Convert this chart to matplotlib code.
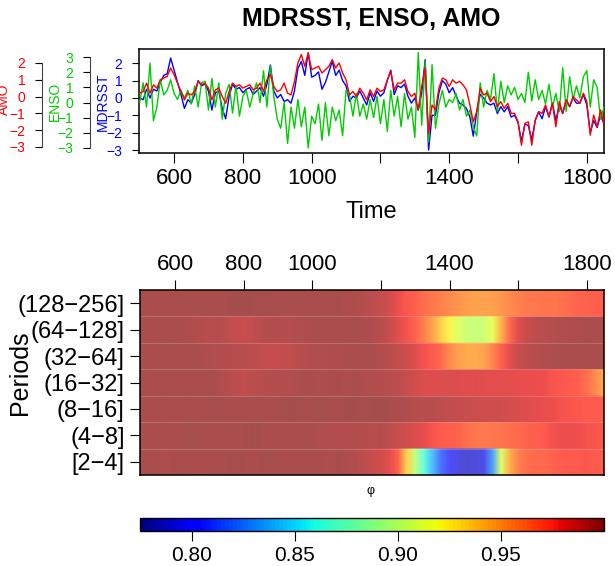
import numpy as np
import matplotlib
matplotlib.use("Agg")
import matplotlib.pyplot as plt
from matplotlib import cm, colors

plt.rcParams['font.family'] = ['Liberation Sans', 'DejaVu Sans']

# time axis of the series (10-year steps)
years = np.arange(500, 1851, 10)

mdrsst = [0.0, -0.1, 0.5, 0.0, 0.5, 0.4, 0.9, 1.3, 1.4, 2.3,
          1.6, 0.9, 0.2, -0.6, -0.1, -0.3, 0.2, 1.0, 0.7, 0.8,
          0.4, -0.7, 0.3, 0.4, -0.6, -1.2, 0.1, 0.8, 0.5, 0.6,
          0.3, 0.5, 0.6, 0.2, 0.4, 0.6, 0.1, 0.8, 1.9, 0.4,
          0.0, 0.2, -0.2, -0.1, -0.3, 0.4, 1.7, 2.1, 1.3, 2.6,
          1.2, 1.3, 1.5, 0.5, 0.9, 1.5, 2.1, 1.3, 1.6, 1.0,
          0.7, -0.2, 0.1, 0.0, 0.4, 0.0, -0.4, 0.3, -0.2, 0.4,
          0.1, 0.3, 1.0, 1.6, 0.2, 0.7, 0.6, 0.8, 0.1, -0.3,
          0.0, -0.7, 0.3, 2.2, -3.0, -1.0, -1.0, 0.3, 1.0, 0.8,
          0.3, 0.6, 0.1, -0.3, -0.4, -0.6, -1.1, -2.2, -0.8, 0.2,
          0.0, -0.3, -0.4, -0.3, -0.9, -0.5, -0.8, -0.5, -1.1, -1.0,
          -1.4, -2.5, -1.5, -1.6, -2.4, -1.3, -0.8, -1.2, -0.5, -1.1,
          -0.3, -1.3, -0.4, -0.9, -0.1, -0.5, 0.0, -0.3, -0.3, 0.2,
          -0.4, -2.0, -1.3, -1.7, -1.0, -1.5]

amo = [0.2, 0.3, 0.8, 0.2, 0.7, 0.5, 1.0, 1.1, 1.2, 1.7,
       1.3, 0.8, 0.3, -0.2, 0.2, 0.1, 0.3, 0.9, 0.7, 0.8,
       0.5, -0.2, 0.4, 0.5, 0.0, -0.4, 0.3, 0.8, 0.6, 0.7,
       0.5, 0.6, 0.7, 0.4, 0.5, 0.8, 0.3, 1.0, 1.3, 0.6,
       0.3, 0.4, 0.8, 0.2, 0.1, 0.9, 2.0, 2.5, 1.8, 2.6,
       1.6, 1.7, 1.8, 1.4, 1.6, 1.8, 2.2, 1.7, 2.0, 1.4,
       1.0, 0.1, 0.3, 0.0, 0.5, 0.2, -0.2, 0.4, 0.0, 0.5,
       0.3, 0.4, 1.0, 1.5, 0.4, 0.8, 0.8, 1.0, 0.3, 0.0,
       0.2, -0.8, 0.6, 1.7, -2.2, -0.5, -0.8, 0.5, 1.1, 1.0,
       0.6, 1.0, 0.8, 0.9, 0.7, 0.4, -0.5, -1.5, -0.9, 0.5,
       0.1, 0.2, -0.3, 0.0, -0.6, -0.3, -0.7, -0.4, -1.0, -1.0,
       -1.5, -2.9, -1.6, -1.5, -2.9, -1.4, -0.9, -1.0, -0.5, -1.2,
       -0.4, -1.8, -0.3, -1.0, -0.2, -0.6, 0.0, -0.2, -0.4, 0.2,
       -0.3, -2.3, -1.1, -1.8, -0.8, -1.6]

enso = [0.0, 1.3, -0.3, 2.6, -1.2, -0.3, 1.5, 0.5, 0.8, 1.5,
        0.6, 0.2, 0.8, 0.3, 0.8, -0.1, 1.1, -0.3, 1.3, 1.4,
        -0.5, 1.6, -0.3, 1.3, -1.1, 0.6, 1.2, -0.7, 1.1, -0.9,
        0.4, 0.8, -0.3, 0.6, 1.3, 0.0, 2.1, -0.3, 2.4, 0.4,
        -1.1, -1.7, 0.0, -2.7, -0.3, -1.7, 0.2, -1.6, -0.3, -3.0,
        -0.9, -1.4, -0.1, -2.5, 0.0, -2.2, -0.3, -1.2, -0.5, -2.2,
        0.8, 0.5, -0.9, 0.6, -0.9, -0.1, -1.1, 0.2, -1.0, 0.4,
        -1.4, 0.2, -1.9, 0.8, -0.9, 0.4, -1.6, 0.6, -1.1, -0.3,
        -2.3, 3.3, -1.5, 2.7, -2.6, 2.5, -1.7, -0.1, 0.8, -0.3,
        0.2, 0.0, 0.6, -0.5, 0.2, -0.9, -0.5, -1.6, -2.2, 1.3,
        -0.3, 0.8, 0.2, 1.9, -0.6, 1.4, 0.0, 1.1, 0.5, 1.0,
        0.2, 0.6, 0.0, 2.0, 0.1, 1.5, 0.2, 0.8, -0.1, 1.2,
        -0.3, 0.6, -0.6, 2.3, -0.6, 1.7, 0.2, 1.1, 0.3, 1.7,
        2.1, -0.3, 1.5, 1.0, -1.1, -0.3]

# coherence-type index per period band (25-year steps)
coh_years = np.arange(500, 1851, 25)
period_labels = ['[2\u22124]', '(4\u22128]', '(8\u221216]', '(16\u221232]',
                 '(32\u221264]', '(64\u2212128]', '(128\u2212256]']

band_2_4 = [0.998, 0.999, 0.998, 0.997, 0.998, 0.999, 0.998, 0.998, 0.999, 0.998,
            0.999, 1.0, 0.999, 0.998, 0.999, 1.0, 0.999, 0.998, 0.999, 0.998,
            0.999, 0.998, 0.997, 0.998, 0.997, 0.996,
            0.993, 0.99, 0.988, 0.982, 0.972, 0.935, 0.9, 0.865, 0.84, 0.815,
            0.8, 0.792, 0.788, 0.79, 0.795, 0.83, 0.91, 0.945, 0.962, 0.968,
            0.97, 0.97, 0.972, 0.974, 0.975, 0.975, 0.976, 0.975, 0.974]
band_4_8 = [0.999, 0.998, 0.999, 0.999, 0.998, 0.999, 1.0, 0.999, 0.998, 0.999,
            0.999, 0.998, 0.999, 1.0, 0.999, 0.998, 0.999, 0.999, 0.998, 0.999,
            0.998, 0.997,
            0.996, 0.996, 0.995, 0.996, 0.995, 0.994, 0.995, 0.993,
            0.99, 0.988, 0.985, 0.982,
            0.977, 0.975, 0.973, 0.972,
            0.968, 0.965, 0.964, 0.965, 0.966, 0.968,
            0.97, 0.972, 0.973, 0.975,
            0.978, 0.979, 0.98, 0.979, 0.978, 0.977, 0.976]
band_8_16 = [0.999, 0.998, 0.999, 0.999, 0.998, 0.999, 0.999, 0.998, 0.999, 1.0,
             0.999, 0.999, 0.998, 0.999, 0.999, 0.998, 0.999, 1.0, 1.0, 0.999,
             0.999, 1.0, 0.999, 0.999, 1.0, 1.0, 0.999, 1.0, 1.0, 0.999,
             0.998, 0.997,
             0.995, 0.994, 0.994, 0.993, 0.992, 0.991,
             0.99, 0.989, 0.988, 0.988, 0.987, 0.986, 0.985, 0.984,
             0.982, 0.98, 0.979, 0.978, 0.977,
             0.976, 0.975, 0.975, 0.974]
band_16_32 = [0.999, 0.999, 0.998, 0.999, 0.999, 0.998, 0.999, 0.998, 0.999, 0.997,
              0.995, 0.993, 0.992, 0.993, 0.994, 0.995, 0.996, 0.996,
              0.997, 0.998, 0.998, 0.997, 0.998, 0.998, 0.997, 0.998,
              0.997, 0.996, 0.995, 0.994, 0.993, 0.99, 0.987,
              0.985, 0.984, 0.984, 0.985, 0.984, 0.983, 0.984, 0.983, 0.982, 0.983,
              0.982, 0.981, 0.98, 0.98, 0.979,
              0.977, 0.976, 0.975, 0.973,
              0.968, 0.958, 0.948]
band_32_64 = [0.999, 0.999, 0.998, 0.999, 0.998, 0.999, 0.999, 0.998, 0.997, 0.996,
              0.995, 0.994, 0.994, 0.993,
              0.992, 0.991, 0.991, 0.992, 0.993,
              0.995, 0.996, 0.996, 0.997, 0.997, 0.998, 0.998,
              0.999, 0.998,
              0.996, 0.994, 0.992, 0.989,
              0.984, 0.978, 0.975, 0.97, 0.958,
              0.951, 0.948, 0.948, 0.95,
              0.96, 0.972, 0.982,
              0.99, 0.993, 0.995, 0.996,
              0.997, 0.998, 0.998, 0.999, 0.999, 0.999, 0.998]
band_64_128 = [0.999, 0.999, 0.998, 0.999, 0.999, 0.998, 0.997,
               0.995, 0.994, 0.995, 0.993,
               0.991, 0.99, 0.991,
               0.994, 0.995, 0.996, 0.995, 0.996, 0.997,
               0.998, 0.999, 0.999, 0.998, 0.999, 0.999, 0.998, 0.997,
               0.994, 0.99,
               0.983, 0.978, 0.972, 0.963, 0.95, 0.935, 0.922, 0.912,
               0.905, 0.903, 0.905, 0.915, 0.945, 0.97, 0.983,
               0.99, 0.993, 0.994, 0.995,
               0.996, 0.997, 0.997, 0.998, 0.998, 0.997]
band_128_256 = [0.999, 0.998, 0.999, 0.998, 0.999, 0.999, 0.998, 0.999, 0.999, 0.998,
                0.999, 1.0, 1.0, 1.0, 0.999, 1.0, 0.999, 0.999, 0.998, 0.999,
                0.998, 0.999, 0.998, 0.998, 0.997, 0.997,
                0.995, 0.993, 0.991, 0.987,
                0.98, 0.976, 0.973,
                0.968, 0.965, 0.962,
                0.958, 0.955, 0.952, 0.95, 0.95, 0.951, 0.954, 0.958,
                0.962, 0.964, 0.965, 0.966, 0.966, 0.967,
                0.969, 0.971, 0.972, 0.973, 0.974]
bands = [band_2_4, band_4_8, band_8_16, band_16_32, band_32_64, band_64_128, band_128_256]

W, H = 615, 566


def box(l, t, r, b):
    return [l / W, 1 - b / H, (r - l) / W, (b - t) / H]


fig = plt.figure(figsize=(W / 100, H / 100), dpi=100)

# ---- top panel: three series with their own axes
ax = fig.add_axes(box(139, 49, 604, 153))
ax.plot(years, mdrsst, color='#0000FF', lw=1.0)
ax.set_xlim(498, 1850)
ax.set_ylim(-3.17, 2.82)
ax.set_yticks([-3, -2, -1, 0, 1, 2])
ax.set_xticks([600, 800, 1000, 1200, 1400, 1600, 1800])
ax.set_xticklabels(['600', '800', '1000', '', '1400', '', '1800'])
ax.tick_params(axis='x', labelsize=16, length=7, pad=4)
ax.tick_params(axis='y', labelsize=10, length=5, pad=7, labelcolor='#0000FF')
for s in ax.spines.values():
    s.set_linewidth(1.1)

ax_e = ax.twinx()
ax_e.plot(years, enso, color='#00CD00', lw=1.0)
ax_e.set_ylim(-3.33, 3.53)
ax_a = ax.twinx()
ax_a.plot(years, amo, color='#FF0000', lw=1.0)
ax_a.set_ylim(-3.36, 2.83)

for a, pos, lo, hi, col in [(ax_e, -0.1054, -3, 3, '#00CD00'),
                            (ax_a, -0.2086, -3, 2, '#FF0000')]:
    for k in ['right', 'top', 'bottom']:
        a.spines[k].set_visible(False)
    a.spines['left'].set_visible(True)
    a.spines['left'].set_position(('axes', pos))
    a.spines['left'].set_bounds(lo, hi)
    a.spines['left'].set_color('#444444')
    a.yaxis.set_ticks_position('left')
    a.set_yticks(list(range(lo, hi + 1)))
    a.tick_params(axis='y', labelsize=10, length=5, pad=7, labelcolor=col)

fig.text(4 / W, 1 - 99 / H, 'AMO', rotation=90, color='#FF0000', fontsize=10,
         ha='center', va='center')
fig.text(55 / W, 1 - 101 / H, 'ENSO', rotation=90, color='#00CD00', fontsize=10,
         ha='center', va='center')
fig.text(103 / W, 1 - 102 / H, 'MDRSST', rotation=90, color='#0000FF', fontsize=10,
         ha='center', va='center')
fig.text(371 / W, 1 - 19 / H, 'MDRSST, ENSO, AMO', fontsize=18, fontweight='bold',
         ha='center', va='center')
fig.text(371 / W, 1 - 212 / H, 'Time', fontsize=17, ha='center', va='center')

# ---- heatmap of the period bands
vmin, vmax = 0.775, 1.0
norm = colors.Normalize(vmin=vmin, vmax=vmax)
hm = fig.add_axes(box(140, 290, 604, 475))
# each band is repeated vertically so the smoothing stays inside its own row
grid = np.repeat(np.array(bands), 24, axis=0)
hm.imshow(grid, extent=(487.5, 1862.5, -0.5, 6.5), origin='lower',
          cmap='jet', norm=norm, alpha=0.7, aspect='auto',
          interpolation='bilinear')
for i in range(1, 7):
    hm.axhline(i - 0.5, color='white', lw=0.8, alpha=0.18)
hm.set_xlim(498, 1850)
hm.set_ylim(-0.5, 6.5)
hm.xaxis.tick_top()
hm.set_xticks([600, 800, 1000, 1200, 1400, 1600, 1800])
hm.set_xticklabels(['600', '800', '1000', '', '1400', '', '1800'])
hm.set_yticks(range(7))
hm.set_yticklabels(period_labels)
hm.tick_params(axis='x', labelsize=16, length=7, pad=4)
hm.tick_params(axis='y', labelsize=17, length=7, pad=4)
for s in hm.spines.values():
    s.set_linewidth(1.1)
fig.text(20 / W, 1 - 373 / H, 'Periods', rotation=90, fontsize=18,
         ha='center', va='center')
fig.text(370 / W, 1 - 491 / H, '\u03c6', fontsize=9, ha='center', va='center')

# ---- colour bar
cax = fig.add_axes(box(140, 518, 604, 531))
sm = cm.ScalarMappable(norm=norm, cmap=plt.get_cmap('jet', 120))
cb = fig.colorbar(sm, cax=cax, orientation='horizontal',
                  ticks=[0.80, 0.85, 0.90, 0.95])
cb.ax.set_xticklabels(['0.80', '0.85', '0.90', '0.95'])
cb.ax.tick_params(labelsize=15, length=7, pad=4)
cb.outline.set_linewidth(1.0)

fig.savefig('out.png', dpi=100)
